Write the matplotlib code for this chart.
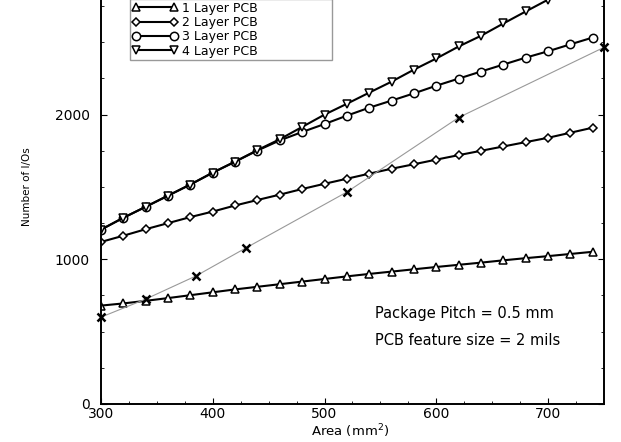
import numpy as np
import matplotlib
matplotlib.use("Agg")
from matplotlib import pyplot as plt
from matplotlib.ticker import MultipleLocator, FixedLocator

## data
area = [300, 320, 340, 360, 380, 400, 420, 440, 460, 480, 500, 520,
        540, 560, 580, 600, 620, 640, 660, 680, 700, 720, 740]
layer1 = [680, 695, 713, 732, 752, 772, 792, 810, 828, 846, 864, 882,
          899, 915, 931, 947, 962, 977, 993, 1008, 1022, 1037, 1052]
layer2 = [1120, 1163, 1208, 1250, 1292, 1330, 1372, 1410, 1447, 1486, 1522, 1557,
          1592, 1626, 1657, 1689, 1720, 1750, 1780, 1810, 1840, 1875, 1910]
layer3 = [1205, 1287, 1363, 1440, 1517, 1599, 1675, 1752, 1822, 1880, 1935, 1993,
          2048, 2097, 2147, 2200, 2249, 2298, 2346, 2394, 2438, 2486, 2533]
layer4 = [1205, 1287, 1363, 1440, 1517, 1599, 1675, 1755, 1830, 1915, 2000, 2075,
          2152, 2228, 2311, 2388, 2471, 2545, 2630, 2713, 2795, 2878, 2960]
pkgArea = [300, 340, 385, 430, 520, 620, 750]
pkgIO = [600, 725, 885, 1080, 1465, 1980, 2465]

labels = ["1 Layer PCB", "2 Layer PCB", "3 Layer PCB", "4 Layer PCB"]
yticks = [0, 1000, 2000]

plt.rcParams['font.family'] = ['DejaVu Sans']

fig = plt.figure(figsize=(6.21, 4.42), dpi=100)
# axes top runs past the figure edge, like the cropped scan
ax = fig.add_axes([0.1626, 0.086, 0.81, 0.982])

style = dict(color="black", lw=1.5, mfc="white", mec="black", mew=1.1)
ax.plot(area, layer1, marker="^", ms=6, label=labels[0], **style)
ax.plot(area, layer2, marker="D", ms=4.5, label=labels[1], **style)
ax.plot(area, layer3, marker="o", ms=6, label=labels[2], **style)
ax.plot(area, layer4, marker="v", ms=6, label=labels[3], **style)

ax.plot(pkgArea, pkgIO, color="0.6", lw=0.8, marker="x", ms=6,
        mec="black", mew=1.8, clip_on=False)

ax.set_xlim(300, 750)
ax.set_ylim(0, 3000)
ax.xaxis.set_major_locator(MultipleLocator(100))
ax.xaxis.set_minor_locator(MultipleLocator(25))
ax.yaxis.set_major_locator(FixedLocator(yticks))
ax.yaxis.set_minor_locator(MultipleLocator(250))
ax.tick_params(which="both", direction="in", right=True, top=True, labelsize=10)
ax.tick_params(which="major", length=4)
ax.tick_params(which="minor", length=2)
ax.tick_params(axis="y", pad=8)
ax.tick_params(axis="x", pad=2)
for s in ax.spines.values():
    s.set_linewidth(1.4)

ax.set_xlabel("Area (mm$^2$)", fontsize=9.5)
ax.xaxis.set_label_coords(0.495, -0.043)
ax.set_ylabel("Number of I/Os", fontsize=7.5)
ax.yaxis.set_label_coords(-0.137, 0.5)

ax.text(545, 622, "Package Pitch = 0.5 mm", fontsize=10.5, va="center", ha="left")
ax.text(545, 442, "PCB feature size = 2 mils", fontsize=10.5, va="center", ha="left")

leg = ax.legend(loc="lower left", bbox_to_anchor=(130/621, 1 - 60/442, 202/621, 0.1),
                bbox_transform=fig.transFigure, mode="expand", numpoints=2,
                fontsize=9, labelspacing=0.1, handlelength=3.6, handletextpad=0.4,
                borderpad=0.2, borderaxespad=0, fancybox=False, framealpha=1)
leg.get_frame().set_edgecolor("0.6")
leg.get_frame().set_linewidth(1.0)

fig.savefig("out.png", dpi=100)
